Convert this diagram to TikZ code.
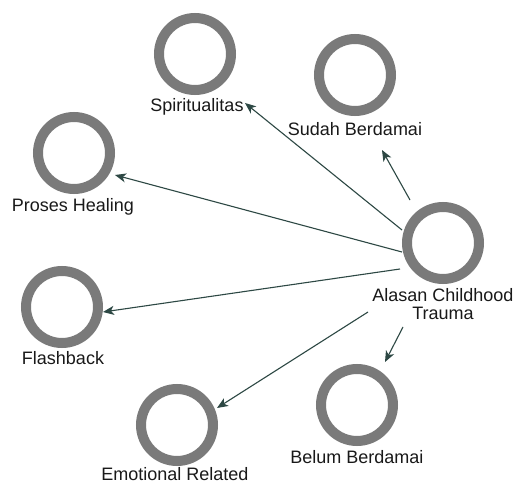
\documentclass[tikz,border=0pt]{standalone}
\usepackage{fontspec}
\setmainfont{Liberation Sans}
\usetikzlibrary{arrows.meta}
\definecolor{ringgray}{RGB}{122,122,122}
\definecolor{arrowcol}{RGB}{45,72,68}
\tikzset{
  ring/.style={circle, draw=ringgray, line width=10pt, minimum size=72pt, inner sep=0pt, fill=white},
  lbl/.style={inner sep=0pt, font=\fontsize{18}{17.4}\selectfont, text=black!90},
  arr/.style={draw=arrowcol, line width=1.1pt, -{Stealth[length=11pt,width=9pt,inset=3pt]}}
}
\begin{document}
\begin{tikzpicture}[x=1pt,y=-1pt]
\useasboundingbox[fill=white] (0,0) rectangle (515,484);
% circles
\node[ring] (sp) at (195,54) {};
\node[ring] (su) at (355,75) {};
\node[ring] (pr) at (74,153) {};
\node[ring] (al) at (443,243) {};
\node[ring] (fl) at (62,307) {};
\node[ring] (em) at (177,425) {};
\node[ring] (be) at (357,405) {};
% labels
\node[lbl, anchor=base] (spL) at (197,112) {Spiritualitas};
\node[lbl, anchor=base] (suL) at (355,136) {Sudah Berdamai};
\node[lbl, anchor=base] (prL) at (73,211.5) {Proses Healing};
\node[lbl, align=center] (alL) at (443,304) {Alasan Childhood\\Trauma};
\node[lbl, anchor=base] (flL) at (63,365) {Flashback};
\node[lbl, anchor=base] (emL) at (175,480) {Emotional Related};
\node[lbl, anchor=base] (beL) at (357,463) {Belum Berdamai};
% connectors
\draw[arr] ([xshift=-41pt,yshift=13pt]al.center) -- ([xshift=50pt,yshift=-49pt]sp.center);
\draw[arr] ([xshift=-33pt,yshift=43pt]al.center) -- ([xshift=27pt,yshift=-75pt]su.center);
\draw[arr] ([xshift=-41pt,yshift=-9pt]al.center) -- ([xshift=41pt,yshift=-22pt]pr.center);
\draw[arr] ([xshift=-43pt,yshift=-26pt]al.center) -- ([xshift=41pt,yshift=-5pt]fl.center);
\draw[arr] ([xshift=-75pt,yshift=-69pt]al.center) -- ([xshift=40pt,yshift=17pt]em.center);
\draw[arr] ([xshift=-40pt,yshift=-84pt]al.center) -- ([xshift=28pt,yshift=43pt]be.center);
\end{tikzpicture}
\end{document}
